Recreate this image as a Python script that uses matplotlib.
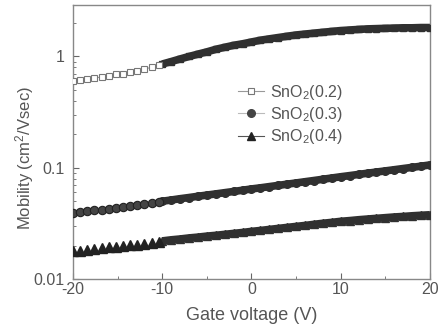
import matplotlib
matplotlib.use("Agg")
import matplotlib.pyplot as plt
from matplotlib.ticker import LogLocator, NullFormatter, MultipleLocator, FixedLocator, FixedFormatter

plt.rcParams['font.family'] = ['Liberation Sans', 'DejaVu Sans']
plt.rcParams['mathtext.fontset'] = 'custom'
plt.rcParams['mathtext.rm'] = 'Liberation Sans'
plt.rcParams['mathtext.it'] = 'Liberation Sans:italic'
plt.rcParams['axes.unicode_minus'] = False

# Sparse measurement region (-20 .. -10 V)
x_sparse = [-20, -19.2, -18.4, -17.6, -16.8, -16.0, -15.2, -14.4, -13.6, -12.8, -12.0, -11.2, -10.4]
s02_sparse = [0.60, 0.615, 0.63, 0.64, 0.655, 0.67, 0.69, 0.70, 0.72, 0.74, 0.77, 0.80, 0.83]
s03_sparse = [0.0395, 0.040, 0.041, 0.0415, 0.042, 0.043, 0.0435, 0.044, 0.045, 0.046, 0.047, 0.048, 0.049]
s04_sparse = [0.0178, 0.0180, 0.0183, 0.0186, 0.0189, 0.0192, 0.0195, 0.0198, 0.0201, 0.0204, 0.0207, 0.0211, 0.0215]

# Dense measurement region (-10 .. 20 V)
x_dense = list(range(-10, 21))
s02_dense = [0.855, 0.90, 0.95, 1.00, 1.05, 1.10, 1.16, 1.21, 1.26, 1.30, 1.35, 1.40, 1.44, 1.48, 1.52, 1.56,
             1.59, 1.62, 1.65, 1.68, 1.71, 1.73, 1.75, 1.77, 1.78, 1.79, 1.80, 1.81, 1.81, 1.82, 1.82]
s03_dense = [0.050, 0.0513, 0.0527, 0.054, 0.0554, 0.0568, 0.0582, 0.0597, 0.0612, 0.0628, 0.0645, 0.066,
             0.0677, 0.0694, 0.0712, 0.073, 0.0749, 0.0768, 0.0788, 0.0809, 0.083, 0.085, 0.0871, 0.0893,
             0.0915, 0.0937, 0.096, 0.0984, 0.1008, 0.1033, 0.106]
s04_dense = [0.0220, 0.0225, 0.0229, 0.0234, 0.0238, 0.0243, 0.0247, 0.0252, 0.0257, 0.0262, 0.0268, 0.0273,
             0.0279, 0.0285, 0.0291, 0.0297, 0.0303, 0.0310, 0.0317, 0.0323, 0.0330, 0.0335, 0.0341, 0.0346,
             0.0351, 0.0356, 0.0361, 0.0365, 0.0370, 0.0374, 0.0378]

labels = ['SnO$_2$(0.2)', 'SnO$_2$(0.3)', 'SnO$_2$(0.4)']
x_ticks = [-20, -10, 0, 10, 20]
y_ticks = [0.01, 0.1, 1]
y_ticklabels = ['0.01', '0.1', '1']

text_c = '#555555'
dark = '#303030'
gray = '#999999'

fig = plt.figure(figsize=(4.38, 3.36), dpi=100)
ax = fig.add_axes([0.1667, 0.1696, 0.815, 0.8154])

# dense bands
ax.plot(x_dense, s02_dense, color=dark, lw=5.5, solid_capstyle='butt', zorder=2)
ax.plot(x_dense, s02_dense, ls='none', marker='s', ms=5, mfc=dark, mec=dark, zorder=3)
ax.plot(x_dense, s03_dense, color=dark, lw=5.5, solid_capstyle='butt', zorder=2)
ax.plot(x_dense, s03_dense, ls='none', marker='o', ms=5.5, mfc=dark, mec=dark, zorder=3)
ax.plot(x_dense, s04_dense, color=dark, lw=5.5, solid_capstyle='butt', zorder=2)
ax.plot(x_dense, s04_dense, ls='none', marker='^', ms=6, mfc=dark, mec=dark, zorder=3)

# sparse markers
ax.plot(x_sparse, s02_sparse, color=gray, lw=0.8, marker='s', ms=4.5, mfc='white', mec='#777777', mew=0.8, zorder=3)
ax.plot(x_sparse, s03_sparse, ls='none', marker='o', ms=6, mfc='#444444', mec='#222222', mew=0.8, zorder=3)
ax.plot(x_sparse, s04_sparse, ls='none', marker='^', ms=6.5, mfc='#222222', mec='#222222', zorder=3)

# legend proxies
h1, = ax.plot([], [], color=gray, lw=0.8, marker='s', ms=5, mfc='white', mec='#777777', mew=0.8)
h2, = ax.plot([], [], color='#bbbbbb', lw=0.8, marker='o', ms=5.5, mfc='#444444', mec='#444444')
h3, = ax.plot([], [], color='#555555', lw=0.8, marker='^', ms=6, mfc='#222222', mec='#222222')
leg = ax.legend([h1, h2, h3], labels, loc='upper left', bbox_to_anchor=(0.44, 0.745), frameon=False,
                fontsize=11.5, handlelength=1.6, handletextpad=0.4, labelspacing=0.2, borderpad=0)
for t in leg.get_texts():
    t.set_color(text_c)

ax.set_yscale('log')
ax.set_xlim(-20, 20)
ax.set_ylim(0.01, 2.9)
ax.xaxis.set_major_locator(FixedLocator(x_ticks))
ax.xaxis.set_minor_locator(MultipleLocator(5))
ax.yaxis.set_major_locator(FixedLocator(y_ticks))
ax.yaxis.set_major_formatter(FixedFormatter(y_ticklabels))
ax.yaxis.set_minor_locator(LogLocator(base=10, subs=range(2, 10)))
ax.yaxis.set_minor_formatter(NullFormatter())

ax.tick_params(which='both', direction='in', colors='#666666', labelcolor=text_c, labelsize=11.5,
               top=False, right=False)
ax.tick_params(axis='x', pad=2)
ax.tick_params(axis='y', pad=6)
ax.tick_params(which='major', length=4, width=0.8)
ax.tick_params(which='minor', length=2.5, width=0.6)
for sp in ax.spines.values():
    sp.set_color('#888888')
    sp.set_linewidth(1.0)

ax.set_xlabel('Gate voltage (V)', fontsize=13, color=text_c, labelpad=7)
ax.set_ylabel('Mobility (cm$^2$/Vsec)', fontsize=12, color=text_c)
ax.yaxis.set_label_coords(-0.105, 0.44)

fig.savefig('out.png', dpi=100)
